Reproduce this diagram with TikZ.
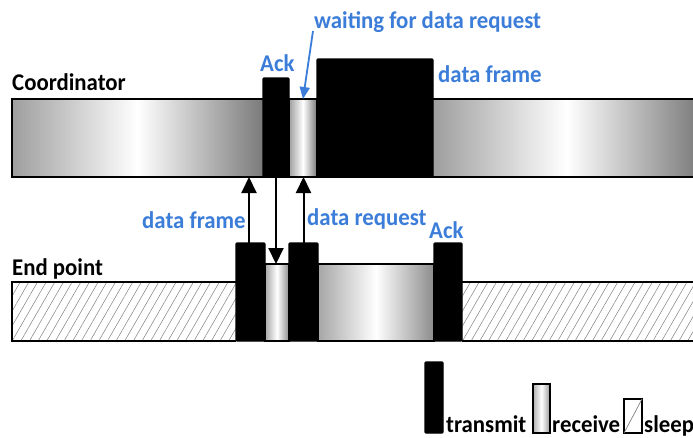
\documentclass[tikz,border=0pt]{standalone}
\usepackage{fontspec}
\setmainfont{Carlito}[FakeStretch=0.95]
\usetikzlibrary{arrows.meta,patterns.meta}
\definecolor{lblue}{RGB}{59,125,216}
\begin{document}
\begin{tikzpicture}[x=1pt,y=-1pt,
  box/.style={anchor=north west,inner sep=0pt,outer sep=0pt,line width=1.2pt},
  tx/.style={box,fill=black,draw=black,rounded corners=1pt},
  rx/.style={box,draw=black,left color=black!35,right color=black!45,middle color=white},
  rxn/.style={box,left color=black!38,right color=black!52,middle color=white},
  sl/.style={box,pattern={Lines[angle=60,distance=7.5pt,line width=0.5pt]},pattern color=black!50},
  txt/.style={anchor=base west,inner sep=0pt,font=\bfseries\fontsize{24}{28}\selectfont},
  lbl/.style={txt,text=black},
  blbl/.style={txt,text=lblue},
  arr/.style={line width=2pt,-{Triangle[width=15pt,length=16pt]}},
  barr/.style={line width=1.8pt,draw=lblue,-{Triangle[width=10pt,length=12pt]}}]
\useasboundingbox (0,0) rectangle (693,437);
\fill[white] (0,0) rectangle (693,437);
% coordinator bar
\node[rxn,minimum width=251,minimum height=78] (cleft) at (12,99) {};
\node[rxn,minimum width=28,minimum height=78] (crx) at (289,99) {};
\node[rxn,minimum width=267,minimum height=78] (cright) at (433,99) {};
\draw[line width=1.4pt] (cright.north east) -- (cleft.north west) -- (cleft.south west) -- (cright.south east);
\draw[line width=1.2pt] (crx.north west) -- (crx.south west) (crx.north east) -- (crx.south east);
\node[tx,minimum width=26,minimum height=99] (cack) at (263,78) {};
\node[tx,minimum width=116,minimum height=118] (cdata) at (317,59) {};
% end point bar
\node[sl,minimum width=224,minimum height=59] (eleft) at (12,282) {};
\node[sl,minimum width=250,minimum height=59] (eright) at (462,282) {};
\draw[line width=1.4pt] (eleft.north east) -- (eleft.north west) -- (eleft.south west) -- (eleft.south east);
\draw[line width=1.4pt] (eright.north west) -- (eright.north east) (eright.south west) -- (eright.south east);
\node[rx,minimum width=24,minimum height=77] (erx1) at (265,264) {};
\node[rx,minimum width=116,minimum height=77] (erx2) at (318,264) {};
\node[tx,minimum width=29,minimum height=98] (etx1) at (236,243) {};
\node[tx,minimum width=29,minimum height=98] (etx2) at (289,243) {};
\node[tx,minimum width=28,minimum height=98] (etx3) at (434,243) {};
% arrows
\draw[arr] (etx1.north -| 249,0) -- (249,177);
\draw[arr] (cack.south) -- (cack.south |- erx1.north);
\draw[arr] (etx2.north) -- (etx2.north |- crx.south);
% labels
\node[lbl] (tcoord) at (12,90) {Coordinator};
\node[lbl] (tend) at (12,275) {End point};
\node[blbl] (tack1) at (260,71) {Ack};
\node[blbl] (twait) at (314,28) {waiting for data request};
\coordinate (wstart) at (313,31);
\draw[barr] (wstart) -- (crx.north);
\node[blbl] (tdf1) at (438,82) {data frame};
\node[blbl] (tdf2) at (142,228) {data frame};
\node[blbl] (tdr) at (307,225) {data request};
\node[blbl] (tack2) at (429,238) {Ack};
% legend
\node[tx,minimum width=18,minimum height=71] (ltx) at (425,362) {};
\node[lbl] (ltxt) at (446,432) {transmit};
\node[box,draw=black,left color=black!30,right color=black!40,middle color=white,minimum width=17,minimum height=49] (lrx) at (533,384) {};
\node[lbl] (lrxt) at (552,432) {receive};
\node[box,draw=black,minimum width=18,minimum height=34] (lsl) at (624,399) {};
\draw[black!50,line width=0.7pt] (lsl.south west) -- (lsl.north east);
\node[lbl] (lslt) at (644,432) {sleep};
\end{tikzpicture}
\end{document}
